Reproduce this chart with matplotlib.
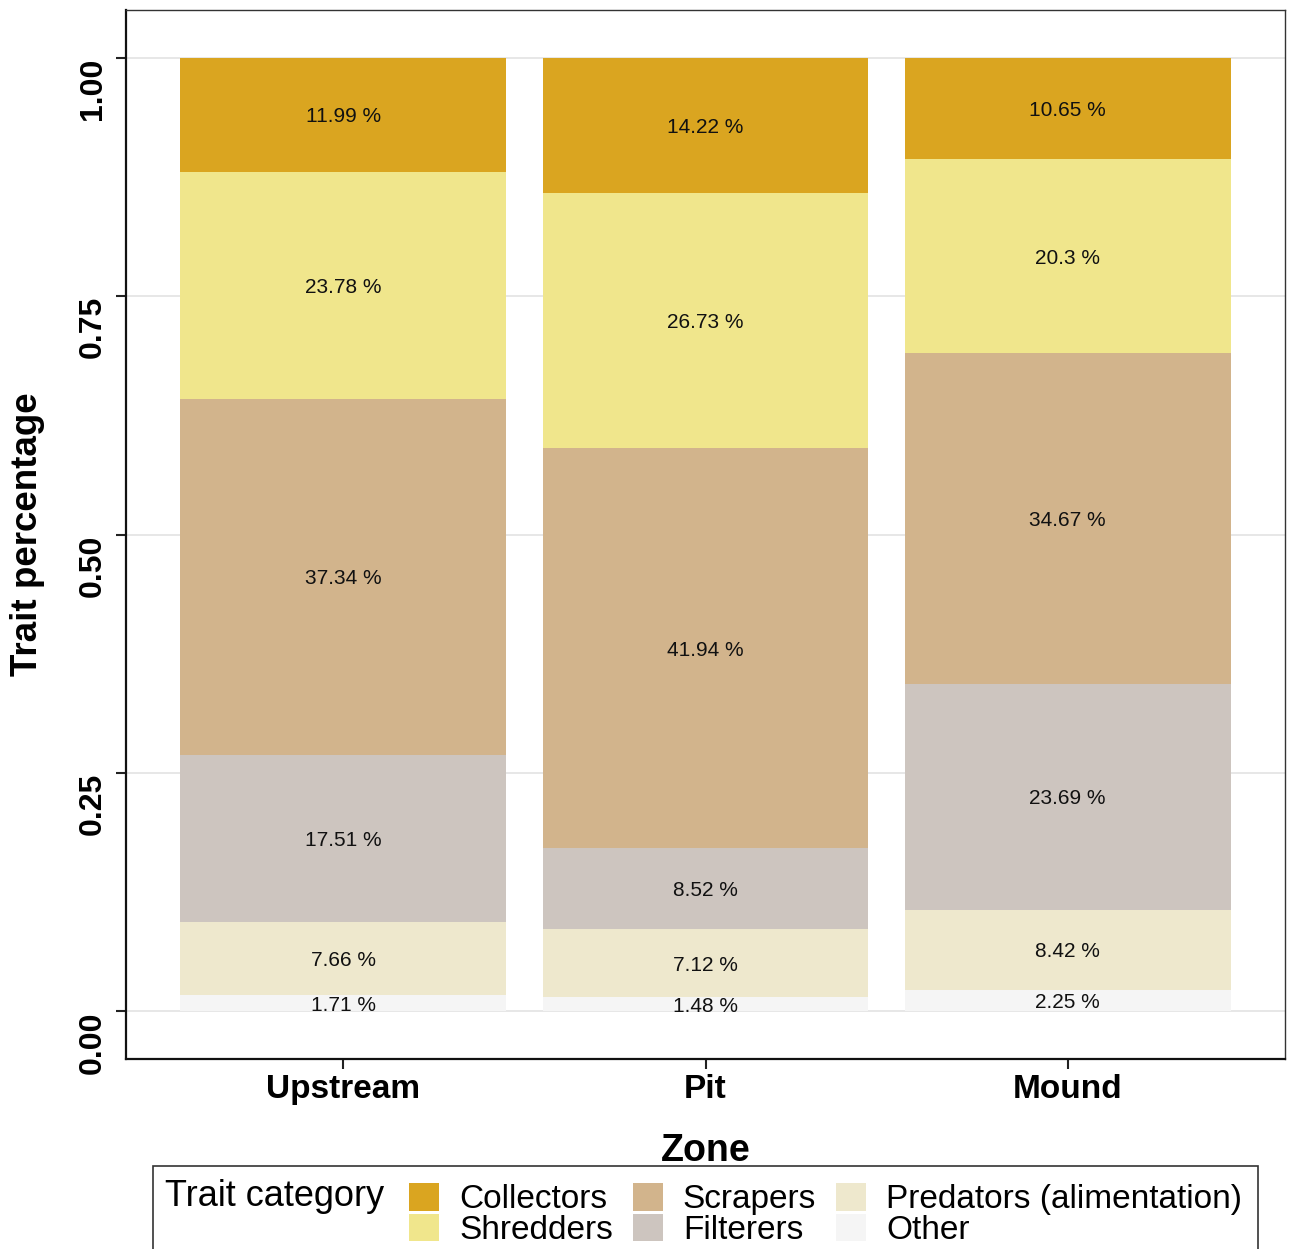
import numpy as np
import matplotlib.pyplot as plt
from matplotlib.patches import Rectangle, Patch

plt.rcParams['font.family'] = ['Liberation Sans', 'DejaVu Sans']

zones = ["Upstream", "Pit", "Mound"]
# stacked top -> bottom, same order as legend
categories = ["Collectors", "Shredders", "Scrapers", "Filterers",
              "Predators (alimentation)", "Other"]
collectors = [11.99, 14.22, 10.65]
shredders = [23.78, 26.73, 20.3]
scrapers = [37.34, 41.94, 34.67]
filterers = [17.51, 8.52, 23.69]
predators = [7.66, 7.12, 8.42]
other = [1.71, 1.48, 2.25]
colors = ["#DAA520", "#F0E68C", "#D2B48C", "#CDC5BF", "#EEE8CD", "#F5F5F5"]

series = [collectors, shredders, scrapers, filterers, predators, other]
values = np.array(series)
frac = values / values.sum(axis=0)

fig = plt.figure(figsize=(12.91, 12.49), dpi=100)
ax = fig.add_axes([126 / 1291, 1 - 1059 / 1249, (1285 - 126) / 1291, (1059 - 10) / 1249])

x = np.arange(1, len(zones) + 1)
bottom = np.zeros(len(zones))
# draw from bottom (Other) up to top (Collectors)
for i in range(len(categories) - 1, -1, -1):
    ax.bar(x, frac[i], bottom=bottom, width=0.9, color=colors[i], zorder=2)
    for xi, b, f, v in zip(x, bottom, frac[i], values[i]):
        ax.text(xi, b + f / 2, f"{v:g} %", ha="center", va="center_baseline",
                fontsize=15, color="#111111", zorder=3)
    bottom += frac[i]

ax.set_xlim(0.4, 3.6)
ax.set_ylim(-0.05, 1.05)
ax.set_yticks([0, 0.25, 0.5, 0.75, 1.0])
ax.set_yticklabels(["0.00", "0.25", "0.50", "0.75", "1.00"], rotation=90,
                   va="top", ha="right", fontsize=23, fontweight="bold")
ax.set_xticks(x)
ax.set_xticklabels(zones, fontsize=24, fontweight="bold")
ax.yaxis.grid(True, color="#e3e3e3", linewidth=1.2, zorder=0)
ax.set_axisbelow(True)
ax.tick_params(axis="both", length=7, width=1.5, color="#222222", pad=4)
ax.tick_params(axis="y", pad=6)

for s in ["left", "bottom"]:
    ax.spines[s].set_linewidth(1.6)
    ax.spines[s].set_color("#111111")
for s in ["top", "right"]:
    ax.spines[s].set_linewidth(1.0)
    ax.spines[s].set_color("#333333")

ax.set_xlabel("Zone", fontsize=27, fontweight="bold", labelpad=20)
ax.set_ylabel("Trait percentage", fontsize=26.5, fontweight="bold", labelpad=24)

# legend box with title on the left
fig.patches.append(Rectangle((153 / 1291, -0.02), (1258 - 153) / 1291,
                             0.02 + (1249 - 1166) / 1249,
                             transform=fig.transFigure, fill=False,
                             edgecolor="#333333", linewidth=1.2))
fig.text(165 / 1291, 1 - 1197 / 1249, "Trait category", fontsize=26,
         va="center", ha="left")
handles = [Patch(facecolor=c, edgecolor="none") for c in colors]
fig.legend(handles, categories, loc="upper left", ncol=3,
           bbox_to_anchor=(409 / 1291, 1 - 1183 / 1249), frameon=False,
           fontsize=24, handlelength=0.9, handleheight=0.9,
           handletextpad=0.6, columnspacing=0.6, labelspacing=-0.05,
           borderpad=0, borderaxespad=0)

fig.savefig("out.png", dpi=100)
